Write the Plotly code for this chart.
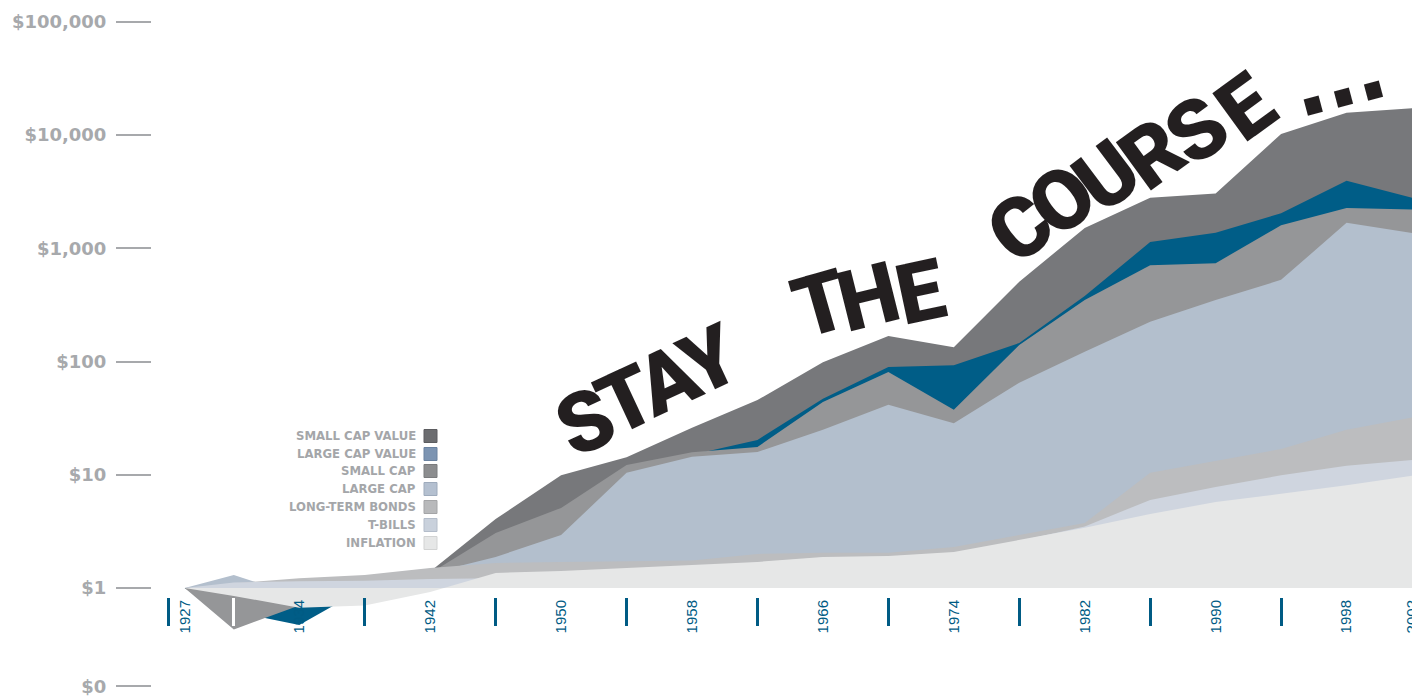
import plotly.graph_objects as go

# ---------------- data (growth of $1, log scale) ----------------
YEARS = [1927, 1930, 1934, 1938, 1942, 1946, 1950, 1954, 1958, 1962,
         1966, 1970, 1974, 1978, 1982, 1986, 1990, 1994, 1998, 2002]

SMALL_CAP_VALUE = [1.0, 0.5, 0.8, 1.1, 1.4, 4.07, 9.9, 14.3, 26, 45.7,
                   98.8, 168, 134, 507, 1516, 2800, 3060, 10250, 15750, 17300]
LARGE_CAP_VALUE = [1.0, 0.62, 0.47, 1.0, 1.3, 2.5, 4.0, 10, 15, 20.3,
                   47, 89.6, 93, 146, 380, 1137, 1375, 2040, 3950, 2800]
SMALL_CAP = [1.0, 0.43, 0.7, 1.05, 1.35, 3.06, 5.1, 12.2, 15.8, 17.6,
             44, 81, 37.5, 140, 350, 710, 740, 1600, 2270, 2200]
LARGE_CAP = [1.0, 1.3, 0.85, 1.2, 1.35, 1.88, 2.94, 10.4, 14.4, 15.9,
             25, 41.6, 28.6, 65, 122, 225, 350, 527, 1680, 1370]
LONG_TERM_BONDS = [1.0, 1.1, 1.22, 1.3, 1.5, 1.66, 1.7, 1.72, 1.75, 2.0,
                   2.05, 2.05, 2.3, 2.94, 3.75, 10.4, 13.2, 16.9, 25, 32]
T_BILLS = [1.0, 1.12, 1.15, 1.16, 1.2, 1.22, 1.3, 1.4, 1.55, 1.68,
           1.86, 1.9, 2.05, 2.6, 3.5, 6.0, 7.8, 9.9, 12, 13.5]
INFLATION = [1.0, 0.85, 0.67, 0.7, 0.92, 1.36, 1.41, 1.5, 1.6, 1.7,
             1.88, 1.92, 2.08, 2.65, 3.4, 4.5, 5.75, 6.8, 8.1, 9.8]

BASELINE = 1.0

LABEL_YEARS = [1927, 1934, 1942, 1950, 1958, 1966, 1974, 1982, 1990, 1998, 2002]
MARK_YEARS = [1926, 1938, 1946, 1954, 1962, 1970, 1978, 1986, 1994]
MARK_YEARS_LIGHT = [1930]

Y_TICKS = [10 ** -0.87, 1, 10, 100, 1000, 10000, 100000]
Y_TICK_TEXT = ["$0", "$1", "$10", "$100", "$1,000", "$10,000", "$100,000"]

# back-to-front drawing order
SERIES = [
    ("Small Cap Value", SMALL_CAP_VALUE, "#77787b"),
    ("Large Cap Value", LARGE_CAP_VALUE, "#005d87"),
    ("Small Cap", SMALL_CAP, "#959698"),
    ("Large Cap", LARGE_CAP, "#b3bfcd"),
    ("Long-Term Bonds", LONG_TERM_BONDS, "#bcbdbf"),
    ("T-Bills", T_BILLS, "#cfd5df"),
    ("Inflation", INFLATION, "#e6e7e7"),
]

LEGEND_LABELS = ["SMALL CAP VALUE", "LARGE CAP VALUE", "SMALL CAP", "LARGE CAP",
                 "LONG-TERM BONDS", "T-BILLS", "INFLATION"]
LEGEND_COLORS = ["#6c6d70", "#7c94b2", "#8c8d8f", "#b4c0d0", "#b8b9bb", "#c9d1dc", "#e6e7e7"]
LEGEND_BORDERS = ["#5c5d60", "#6a82a0", "#7b7c7e", "#9eabbc", "#a4a5a7", "#b4bdca", "#d2d3d3"]

# ---------------- figure ----------------
W, H = 1412, 696
ML = 152
X_RANGE = [1925, 2002]
AXIS_POS = 1 - 597 / H
fig = go.Figure()

for name, vals, color in SERIES:
    fig.add_trace(go.Scatter(x=YEARS, y=[BASELINE] * len(YEARS), mode="lines",
                             line=dict(width=0), hoverinfo="skip", showlegend=False))
    fig.add_trace(go.Scatter(x=YEARS, y=vals, mode="lines", name=name,
                             line=dict(width=0, color=color), fill="tonexty",
                             fillcolor=color, showlegend=False))

# helper (invisible) trace so the overlay axis carrying the light tick mark is drawn
fig.add_trace(go.Scatter(x=YEARS, y=[BASELINE] * len(YEARS), xaxis="x2", mode="lines",
                         line=dict(width=0), hoverinfo="skip", showlegend=False))


def pxx(x):
    return (x - ML) / (W - ML)


def pxy(y):
    return 1 - y / H


annotations = []
shapes = []

# custom legend (text left, swatch right)
row_y = [436, 454, 471, 489, 507, 525, 543]
for lab, col, bcol, yc in zip(LEGEND_LABELS, LEGEND_COLORS, LEGEND_BORDERS, row_y):
    annotations.append(dict(text=lab, x=pxx(418), y=pxy(yc), xref="paper", yref="paper",
                            xanchor="right", yanchor="middle", showarrow=False,
                            font=dict(family="DejaVu Sans", size=11.7, color="#a4a6a9",
                                      weight="bold")))
    shapes.append(dict(type="rect", xref="paper", yref="paper",
                       x0=pxx(424), x1=pxx(437), y0=pxy(yc + 6.5), y1=pxy(yc - 6.5),
                       fillcolor=col, line=dict(color=bcol, width=1)))

# headline letters following the curve
BIG = dict(family="Roboto", size=84, color="#231f20", weight=900)
letters = [
    ("S", 585, 422, -25), ("T", 626, 400, -25), ("A", 667, 380, -25), ("Y", 709, 360, -25),
    ("T", 820, 304, -16), ("H", 868, 298, -14), ("E", 920, 292, -12),
    ("C", 1020, 228, -38), ("O", 1062, 200, -38), ("U", 1107, 176, -37),
    ("R", 1152, 154, -36), ("S", 1197, 131, -36), ("E", 1246, 108, -36),
]
for ch, x, y, ang in letters:
    annotations.append(dict(text=ch, x=pxx(x), y=pxy(y), xref="paper", yref="paper",
                            xanchor="center", yanchor="middle", showarrow=False,
                            textangle=ang, font=BIG))
DOT = dict(family="DejaVu Sans", size=88, color="#231f20", weight="bold")
for x, y in [(1313, 107), (1343, 98), (1373, 91)]:
    annotations.append(dict(text=".", x=pxx(x - 6), y=pxy(y - 22), xref="paper", yref="paper",
                            xanchor="center", yanchor="middle", showarrow=False,
                            textangle=-15, font=DOT))

fig.update_layout(
    width=W, height=H,
    margin=dict(l=ML, r=0, t=0, b=0, autoexpand=False),
    paper_bgcolor="white", plot_bgcolor="white",
    showlegend=False,
    annotations=annotations, shapes=shapes,
    xaxis=dict(range=X_RANGE, anchor="free", position=AXIS_POS, automargin=False,
               showgrid=False, zeroline=False, showline=False,
               tickmode="array", tickvals=LABEL_YEARS, ticktext=[str(v) for v in LABEL_YEARS],
               tickangle=-90, ticks="outside", ticklen=0, tickcolor="rgba(0,0,0,0)",
               ticklabelstandoff=-4, ticklabeloverflow="allow",
               tickfont=dict(family="Liberation Sans", size=15, color="#005b84"),
               minor=dict(tickmode="array", tickvals=MARK_YEARS, ticks="outside",
                          ticklen=28, tickwidth=3, tickcolor="#005b84", showgrid=False)),
    xaxis2=dict(range=X_RANGE, overlaying="x", anchor="free", position=AXIS_POS,
                automargin=False, showgrid=False, zeroline=False, showline=False,
                tickmode="array", tickvals=[], showticklabels=False,
                ticks="outside", ticklen=0, tickcolor="rgba(0,0,0,0)",
                minor=dict(tickmode="array", tickvals=MARK_YEARS_LIGHT, ticks="outside",
                           ticklen=28, tickwidth=3, tickcolor="white", showgrid=False)),
    yaxis=dict(type="log", range=[-0.954, 5.194], automargin=False,
               showgrid=False, zeroline=False, showline=False,
               tickmode="array", tickvals=Y_TICKS, ticktext=Y_TICK_TEXT,
               ticks="outside", ticklen=35, tickwidth=2, tickcolor="#a7a9ac",
               ticklabelstandoff=6, ticklabeloverflow="allow",
               tickfont=dict(family="DejaVu Sans", size=18, color="#a7a9ac", weight="bold")),
)

fig.write_html(
    "out.html",
    config={"displayModeBar": False},
    post_script="document.body.style.margin='0';document.body.style.overflow='hidden';",
)
